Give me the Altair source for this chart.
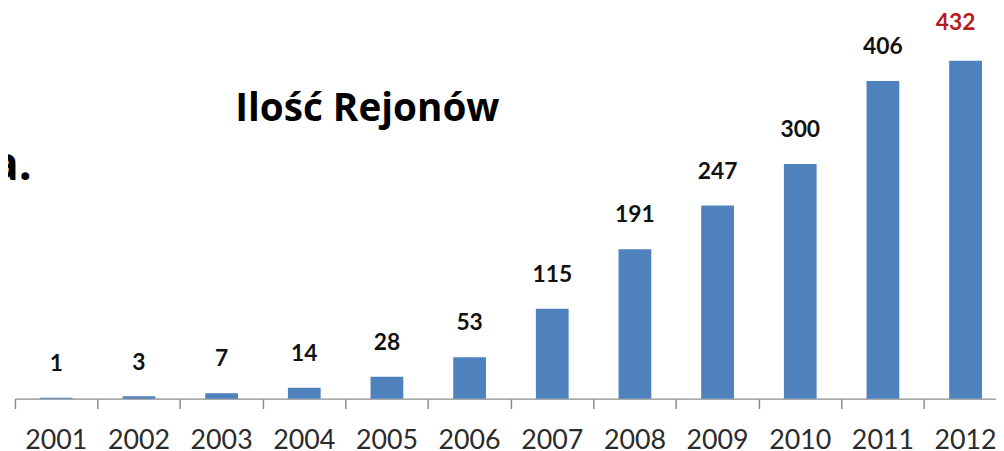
import altair as alt
import pandas as pd

years = ["2001", "2002", "2003", "2004", "2005", "2006", "2007", "2008", "2009", "2010", "2011", "2012"]
values = [1, 3, 7, 14, 28, 53, 115, 191, 247, 300, 406, 432]
title_text = "Ilość Rejonów"
side_text = "a."
highlight_year = "2012"

df = pd.DataFrame({"year": years, "value": values})

x_enc = alt.X(
    "year:N",
    sort=years,
    title=None,
    scale=alt.Scale(paddingInner=0, paddingOuter=0, range=[0, 1000]),
    axis=alt.Axis(
        bandPosition=0,
        domainColor="#8c8c8c",
        domainWidth=1.5,
        tickColor="#8c8c8c",
        tickWidth=1.5,
        tickSize=10,
        labelFont="Lato",
        labelFontSize=27,
        labelColor="#2b2b2b",
        labelBaseline="alphabetic",
        labelPadding=40,
        labelAngle=0,
        labelOverlap=False,
        labelFlush=False,
        labelBound=False,
        grid=False,
    ),
)
y_enc = alt.Y("value:Q", scale=alt.Scale(domain=[0, 497], nice=False, zero=True), axis=None)

base = alt.Chart(df)

bars = base.mark_bar(size=33, color="#4F81BD").encode(x=x_enc, y=y_enc)

labels = base.transform_filter(alt.datum.year != highlight_year).mark_text(
    font="Lato", fontSize=23, fontWeight="bold", color="#111111", baseline="alphabetic", dy=-27
).encode(x=alt.X("year:N", sort=years), y=alt.Y("value:Q"), text="value:Q")

hl = base.transform_filter(alt.datum.year == highlight_year).mark_text(
    font="Lato", fontSize=23, fontWeight="bold", color="#B51C22", baseline="alphabetic", dy=-31, dx=-10
).encode(x=alt.X("year:N", sort=years), y=alt.Y("value:Q"), text="value:Q")

title = alt.Chart(pd.DataFrame({"t": [title_text]})).mark_text(
    font="Open Sans", fontSize=39, fontWeight="bold", color="#000000", align="left", baseline="alphabetic"
).encode(x=alt.value(222), y=alt.value(112), text="t:N")

side = alt.Chart(pd.DataFrame({"t": [side_text]})).mark_text(
    font="Open Sans", fontSize=46, fontWeight="bold", color="#000000", align="right", baseline="alphabetic"
).encode(x=alt.value(17), y=alt.value(172), text="t:N")

chart = alt.layer(bars, labels, hl, title, side).properties(
    width=989,
    height=392,
    autosize=alt.AutoSizeParams(type="none"),
    padding={"left": 7, "top": 0, "right": 0, "bottom": 51},
    background="white",
).configure_view(stroke=None)

chart.save("out.html", embed_options={"renderer": "svg", "actions": False})
